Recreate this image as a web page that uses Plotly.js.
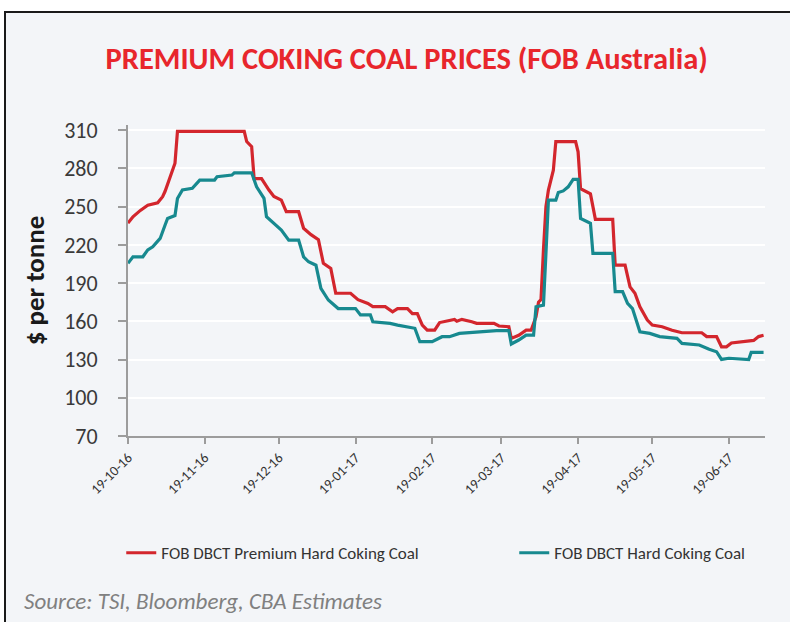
<!DOCTYPE html>
<html>
<head>
<meta charset="utf-8">
<script src="https://cdn.plot.ly/plotly-3.0.1.min.js"></script>
<style>
  html, body { margin: 0; padding: 0; background: #ffffff; }
  #frame { position: absolute; left: 4px; top: 11px; width: 786px; height: 611px;
           border-left: 2px solid #1a1a1a; border-top: 2px solid #1a1a1a; box-sizing: border-box;
           background: #f3f5f8; }
  #chart { width: 784px; height: 609px; }
</style>
</head>
<body>
<div id="frame"><div id="chart"></div></div>
<script>
// ---- data ----
const premiumDates = ['2016-10-19','2016-10-21','2016-10-24','2016-10-27','2016-10-31','2016-11-02','2016-11-03','2016-11-05','2016-11-07','2016-11-08',
  '2016-12-05','2016-12-06','2016-12-08','2016-12-09','2016-12-12','2016-12-15','2016-12-17','2016-12-20','2016-12-22','2016-12-27',
  '2016-12-29','2017-01-01','2017-01-04','2017-01-06','2017-01-09','2017-01-11','2017-01-17','2017-01-20','2017-01-24','2017-01-26',
  '2017-01-31','2017-02-03','2017-02-05','2017-02-09','2017-02-11','2017-02-13','2017-02-15','2017-02-17','2017-02-20','2017-02-22',
  '2017-02-26','2017-02-28','2017-03-01','2017-03-03','2017-03-07','2017-03-09','2017-03-16','2017-03-18','2017-03-22','2017-03-23',
  '2017-03-26','2017-03-29','2017-03-31','2017-04-02','2017-04-03','2017-04-04','2017-04-05','2017-04-06','2017-04-07','2017-04-09',
  '2017-04-10','2017-04-18','2017-04-19','2017-04-20','2017-04-24','2017-04-26','2017-05-03','2017-05-04','2017-05-08','2017-05-10',
  '2017-05-12','2017-05-14','2017-05-17','2017-05-19','2017-05-23','2017-05-27','2017-05-31','2017-06-08','2017-06-10','2017-06-14',
  '2017-06-16','2017-06-18','2017-06-20','2017-06-23','2017-06-26','2017-06-29','2017-07-01','2017-07-03'];
const premiumPrices = [237,242,247,251,253,257.7,262,273,284,309,
  309,301,297,272,272,263,258,255,246,246,
  233,228,224,205.5,201.5,182,182,177,174,171.5,
  171.5,167.5,170,170,166,166,157,153,153,159,
  161,161.5,160,161.5,159.6,158.4,158.4,156.3,155.7,146.6,
  149,153,153,163.6,175,177,216,250,263,278.6,
  301,301,293,264,260,240,240,204,204,187,
  182,171.4,161,157,155.7,153,151,151,148,148,
  140,140,143,143.5,144.5,145,148,149];

const hardDates = ['2016-10-19','2016-10-21','2016-10-25','2016-10-27','2016-10-29','2016-10-31','2016-11-01','2016-11-03','2016-11-04','2016-11-07',
  '2016-11-08','2016-11-10','2016-11-14','2016-11-17','2016-11-23','2016-11-24','2016-11-30','2016-12-01','2016-12-08','2016-12-10',
  '2016-12-13','2016-12-14','2016-12-17','2016-12-20','2016-12-23','2016-12-27','2016-12-29','2016-12-31','2017-01-03','2017-01-05',
  '2017-01-08','2017-01-12','2017-01-19','2017-01-21','2017-01-25','2017-01-26','2017-02-02','2017-02-05','2017-02-12','2017-02-14',
  '2017-02-19','2017-02-23','2017-02-26','2017-03-02','2017-03-17','2017-03-22','2017-03-23','2017-03-26','2017-03-29','2017-04-01',
  '2017-04-02','2017-04-05','2017-04-06','2017-04-07','2017-04-10','2017-04-11','2017-04-13','2017-04-15','2017-04-17','2017-04-19',
  '2017-04-20','2017-04-24','2017-04-25','2017-05-03','2017-05-04','2017-05-07','2017-05-09','2017-05-11','2017-05-14','2017-05-18',
  '2017-05-22','2017-05-29','2017-05-31','2017-06-07','2017-06-11','2017-06-14','2017-06-16','2017-06-19','2017-06-27','2017-06-28',
  '2017-07-03'];
const hardPrices = [205.5,210.6,210.6,216,218.5,222.4,225,235.5,240.7,243,
  256.4,263,264.3,270.8,270.8,273.4,274.7,276.5,276.5,265.5,
  256.4,242,236.8,231.6,223.7,223.7,210.6,206.7,204,185.8,
  176.7,170,170,165,165,159.6,158.4,157,154.5,144,
  144,147.9,147.9,150.5,152.6,152.6,142.2,145.3,149.2,149.2,
  171.4,172.7,213,255,255,261,262.3,265.5,271.3,271.3,
  240.7,236.8,213.3,213.3,183.2,183.2,174,170,151.8,150.5,
  148,146.6,142.7,141.4,138,136.1,130.1,131,130,135.6,
  135.6];

const seriesNames = ['FOB DBCT Premium Hard Coking Coal', 'FOB DBCT Hard Coking Coal'];
const yTickValues = [70, 100, 130, 160, 190, 220, 250, 280, 310];
const chartTitle = 'PREMIUM COKING COAL PRICES (FOB Australia)';
const yTitle = '$ per tonne';
const sourceText = 'Source: TSI, Bloomberg, CBA Estimates';

const FONT = 'Carlito, Lato, "Open Sans", sans-serif';

const traces = [
  { x: premiumDates, y: premiumPrices, name: seriesNames[0], type: 'scatter', mode: 'lines',
    line: { color: '#d3262d', width: 3.2 }, legendwidth: 348 },
  { x: hardDates, y: hardPrices, name: seriesNames[1], type: 'scatter', mode: 'lines',
    line: { color: '#17898f', width: 3.2 }, legendwidth: 200 }
];

const layout = {
  width: 784, height: 609,
  paper_bgcolor: '#f3f5f8', plot_bgcolor: '#f3f5f8',
  margin: { l: 122, r: 25, t: 112, b: 186 },
  font: { family: FONT, color: '#333333' },
  title: { text: chartTitle, font: { family: FONT, size: 30.5, color: '#e8262c', weight: 'bold' },
           xref: 'container', x: 0.511, xanchor: 'center', yref: 'container', y: 0.926, yanchor: 'middle' },
  xaxis: {
    type: 'date', range: ['2016-10-19', '2017-07-03 14:00'],
    tickmode: 'linear', tick0: '2016-10-19', dtick: 'M1', tickformat: '%d-%m-%y',
    tickangle: -45, tickfont: { size: 14, color: '#333333' },
    showgrid: false, zeroline: false,
    showline: true, linecolor: '#9c9c9c', linewidth: 2,
    ticks: 'outside', ticklen: 6, tickwidth: 2, tickcolor: '#9c9c9c'
  },
  yaxis: {
    range: [70, 314], tickmode: 'array', tickvals: yTickValues,
    tickfont: { size: 22, color: '#3a3a3a' },
    showgrid: true, gridcolor: '#ffffff', gridwidth: 2, zeroline: false,
    showline: true, linecolor: '#9c9c9c', linewidth: 2,
    ticks: 'outside', ticklen: 8, tickwidth: 2, tickcolor: '#9c9c9c',
    ticklabelstandoff: 16,
    title: { text: yTitle, font: { size: 27, color: '#1a1a1a', weight: 'bold' }, standoff: 12 }
  },
  showlegend: true,
  legend: { orientation: 'h', xref: 'container', x: 0.147, xanchor: 'left', yref: 'container', y: 0.113, yanchor: 'middle',
            font: { size: 17, color: '#333333' }, bgcolor: 'rgba(0,0,0,0)' },
  annotations: [
    { text: sourceText, xref: 'paper', yref: 'paper', x: (16 - 122) / 637, y: (423 - 588) / 311,
      xanchor: 'left', yanchor: 'middle', showarrow: false,
      font: { family: FONT, size: 23, color: '#808080', style: 'italic' } }
  ]
};

Plotly.newPlot('chart', traces, layout, { displayModeBar: false, staticPlot: true });
</script>
</body>
</html>
